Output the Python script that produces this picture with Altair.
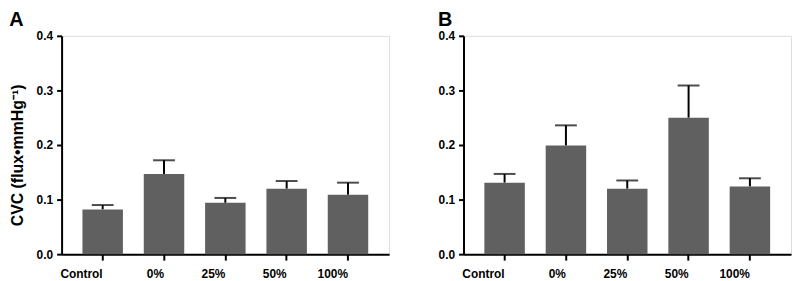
import altair as alt
import pandas as pd

categories = ["Control", "0%", "25%", "50%", "100%"]
a_mean = [0.082, 0.147, 0.094, 0.120, 0.109]
a_upper = [0.090, 0.172, 0.103, 0.134, 0.131]
b_mean = [0.131, 0.199, 0.120, 0.250, 0.124]
b_upper = [0.147, 0.236, 0.135, 0.309, 0.139]

FONT = "Liberation Sans"
BAR = "#606060"


def panel(letter, mean, upper, show_title):
    df = pd.DataFrame({"cat": categories, "mean": mean, "upper": upper})
    x = alt.X(
        "cat:N",
        sort=categories,
        scale=alt.Scale(paddingInner=0.34, paddingOuter=0.34),
        axis=alt.Axis(
            title=None,
            labelAngle=0,
            labelFont=FONT,
            labelFontWeight="bold",
            labelFontSize=12,
            labelColor="black",
            labelPadding=14,
            domainColor="black",
            domainWidth=2,
            tickColor="black",
            tickWidth=2,
            tickSize=6,
        ),
    )
    extra = {}
    if show_title:
        extra = dict(
            title="CVC (flux\u2022mmHg\u207b\u00b9)",
            titleFont=FONT,
            titleFontWeight="bold",
            titleFontSize=16,
            titleColor="black",
            titlePadding=11,
            titleY=120,
        )
    else:
        extra = dict(title=None)
    yaxis = alt.Axis(
        values=[0, 0.1, 0.2, 0.3, 0.4],
        format=".1f",
        grid=False,
        labelFont=FONT,
        labelFontWeight="bold",
        labelFontSize=12,
        labelColor="black",
        labelPadding=4,
        domainColor="black",
        domainWidth=2,
        tickColor="black",
        tickWidth=2,
        tickSize=5,
        **extra,
    )
    y = alt.Y("mean:Q", scale=alt.Scale(domain=[0, 0.4], nice=False), axis=yaxis)
    bars = alt.Chart(df).mark_bar(color=BAR).encode(x=x, y=y)
    stem = alt.Chart(df).mark_rule(color="black", strokeWidth=2).encode(
        x=alt.X("cat:N", sort=categories), y="mean:Q", y2="upper:Q"
    )
    cap = alt.Chart(df).mark_tick(color="black", thickness=2, size=22).encode(
        x=alt.X("cat:N", sort=categories), y="upper:Q"
    )
    return alt.layer(stem, bars, cap).properties(
        width=330,
        height=220,
        title=alt.TitleParams(
            letter,
            anchor="start",
            frame="bounds",
            font=FONT,
            fontSize=20,
            fontWeight="bold",
            color="black",
            offset=0,
        ),
    )


chart = (
    alt.hconcat(
        panel("A", a_mean, a_upper, True),
        panel("B", b_mean, b_upper, False),
        spacing=47,
    )
    .properties(padding=0)
    .configure_view(stroke=None)
    .configure(background="white")
)

chart.save("out.html", embed_options={"renderer": "svg", "actions": False})
